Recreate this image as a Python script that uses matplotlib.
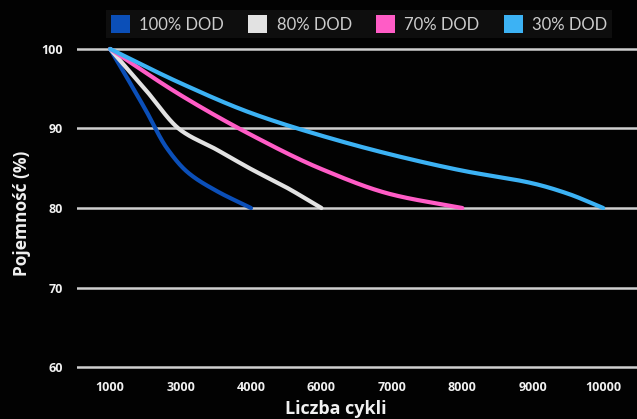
import numpy as np
import matplotlib
matplotlib.use("Agg")
import matplotlib.pyplot as plt
from matplotlib.patches import Patch

# ---- data (x positions are category indices) ----
categories = ["1000", "3000", "4000", "6000", "7000", "8000", "9000", "10000"]
series_names = ["100% DOD", "80% DOD", "70% DOD", "30% DOD"]

dod100_x = [0, 0.5, 0.8, 1.1, 1.5, 2]
dod100_y = [100, 92.4, 87.6, 84.5, 82.2, 80]

dod80_x = [0, 0.5, 1, 1.5, 2, 2.5, 3]
dod80_y = [100, 94.9, 89.8, 87.4, 84.9, 82.6, 80]

dod70_x = [0, 1, 2, 3, 4, 5]
dod70_y = [100, 94.2, 89.2, 84.9, 81.7, 80]

dod30_x = [0, 1, 2, 3, 4, 5, 6, 6.5, 7]
dod30_y = [100, 95.7, 91.95, 89.1, 86.7, 84.7, 83.1, 81.8, 80]

yticks = [60, 70, 80, 90, 100]

colors = ["#0b4fb8", "#e2e2e2", "#ff5cc6", "#3cb2f4"]


def pchip(x, y, n=300):
    x = np.asarray(x, float)
    y = np.asarray(y, float)
    h = np.diff(x)
    d = np.diff(y) / h
    m = np.zeros_like(y)
    for k in range(1, len(x) - 1):
        if d[k - 1] * d[k] > 0:
            w1 = 2 * h[k] + h[k - 1]
            w2 = h[k] + 2 * h[k - 1]
            m[k] = (w1 + w2) / (w1 / d[k - 1] + w2 / d[k])
    m[0] = d[0]
    m[-1] = d[-1]
    xs = np.linspace(x[0], x[-1], n)
    ys = np.empty_like(xs)
    for j, xv in enumerate(xs):
        k = min(np.searchsorted(x, xv, side="right") - 1, len(h) - 1)
        t = (xv - x[k]) / h[k]
        h00 = 2 * t**3 - 3 * t**2 + 1
        h10 = t**3 - 2 * t**2 + t
        h01 = -2 * t**3 + 3 * t**2
        h11 = t**3 - t**2
        ys[j] = h00 * y[k] + h10 * h[k] * m[k] + h01 * y[k + 1] + h11 * h[k] * m[k + 1]
    return xs, ys


W, H = 637, 419
BG = "#020202"
fig = plt.figure(figsize=(W / 100, H / 100), dpi=100, facecolor=BG)

left_px, right_px = 77, 637
top_px, bot_px = 41, 375
ax = fig.add_axes([left_px / W, 1 - bot_px / H, (right_px - left_px) / W, (bot_px - top_px) / H])
ax.set_facecolor(BG)

ax.set_ylim(59, 101)
ax.set_xlim(-0.47, 7.48)

for yt in yticks:
    ax.axhline(yt, color="#cfcfcf", lw=1.8, zorder=1)

all_x = [dod100_x, dod80_x, dod70_x, dod30_x]
all_y = [dod100_y, dod80_y, dod70_y, dod30_y]
for xs, ys, c in zip(all_x, all_y, colors):
    sx, sy = pchip(xs, ys)
    ax.plot(sx, sy, color=c, lw=3.0, solid_capstyle="round", zorder=3)

for s in ax.spines.values():
    s.set_visible(False)

ax.set_yticks(yticks)
ax.set_yticklabels([str(v) for v in yticks], fontfamily="Open Sans", fontweight="bold",
                   fontsize=9, color="#f0f0f0")
ax.set_xticks(range(len(categories)))
ax.set_xticklabels(categories, fontfamily="Open Sans", fontweight="bold",
                   fontsize=9, color="#f0f0f0")
ax.tick_params(axis="y", length=0, pad=10)
ax.tick_params(axis="x", length=0, pad=4)

fig.text(22 / W, 1 - 213 / H, "Pojemność (%)", rotation=90, ha="center", va="center",
         fontfamily="Open Sans", fontweight="bold", fontsize=12.5, color="#f0f0f0")
fig.text(336 / W, 1 - 409 / H, "Liczba cykli", ha="center", va="center",
         fontfamily="Open Sans", fontweight="bold", fontsize=13, color="#f0f0f0")

handles = [Patch(facecolor=c, edgecolor="none", label=n) for c, n in zip(colors, series_names)]
leg = fig.legend(handles=handles, loc="center", bbox_to_anchor=(359 / W, 1 - 24 / H), ncol=4,
                 frameon=True, fancybox=False, facecolor="#0e0e0e", edgecolor="none",
                 framealpha=1, handlelength=1.15, handleheight=1.3, handletextpad=0.55,
                 columnspacing=1.45, borderpad=0.3, labelcolor="#cccccc",
                 prop={"family": "Lato", "weight": "normal", "size": 12})

fig.savefig("out.png", dpi=100, facecolor=fig.get_facecolor())
